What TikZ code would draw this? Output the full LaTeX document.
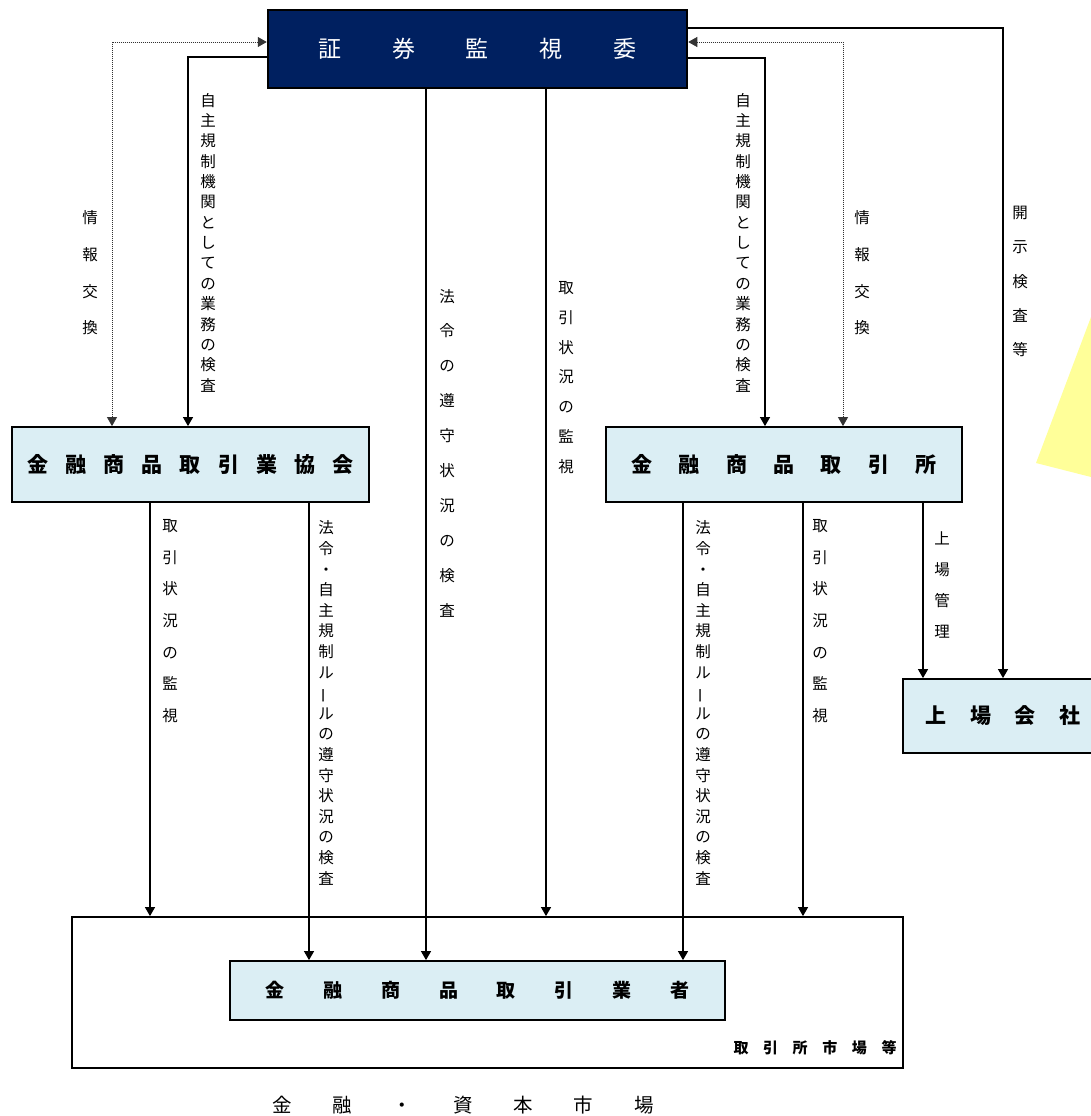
\documentclass[tikz,border=0pt]{standalone}
\usepackage{fontspec}
\usepackage{graphicx}
\newfontfamily\jp{Noto Sans CJK JP}
\usetikzlibrary{arrows.meta}
\definecolor{navy}{RGB}{0,32,96}
\definecolor{lblue}{RGB}{219,238,244}
\definecolor{lyel}{RGB}{255,255,153}
\newlength\cbw
\newcommand\cb[1]{\makebox[\cbw]{#1}}
\newcommand\vbar{\rotatebox[origin=c]{90}{ー}}
\begin{document}
\begin{tikzpicture}[x=1pt,y=-1pt,
  tip/.tip={Triangle[length=9pt,width=10pt]},
  conn/.style={line width=1.2pt,-tip},
  dotconn/.style={line width=0.8pt,black!80,dash pattern=on 1pt off 1pt,tip-tip},
  box/.style={draw=black,line width=1.8pt,fill=lblue,inner sep=0pt},
  topbox/.style={draw=black,line width=2.5pt,fill=navy,inner sep=0pt,text=white,
    font={\jp\fontsize{23pt}{26pt}\selectfont}},
  vlab/.style={align=center,inner sep=0pt,font={\jp\fontsize{15.5pt}{#1}\selectfont}}]
\useasboundingbox (0,0) rectangle (1091,1116);
% yellow shape
\fill[lyel] (1036,463) -- (1091,317) -- (1091,477) -- cycle;

% boxes
\node[topbox,minimum width=419pt,minimum height=78pt] (sesc) at (477.5,49)
  {\setlength\cbw{73.7pt}\cb{証}\cb{券}\cb{監}\cb{視}\cb{委}};
\node[box,minimum width=357pt,minimum height=75pt,font={\jp\bfseries\fontsize{21pt}{24pt}\selectfont}] (kyokai) at (190.5,464.5)
  {\setlength\cbw{38.1pt}\cb{金}\cb{融}\cb{商}\cb{品}\cb{取}\cb{引}\cb{業}\cb{協}\cb{会}};
\node[box,minimum width=356pt,minimum height=75pt,font={\jp\bfseries\fontsize{21pt}{24pt}\selectfont}] (torihiki) at (784,464.5)
  {\setlength\cbw{47.3pt}\cb{金}\cb{融}\cb{商}\cb{品}\cb{取}\cb{引}\cb{所}};
\node[box,minimum width=200pt,minimum height=74pt,font={\jp\bfseries\fontsize{21pt}{24pt}\selectfont}] (jojo) at (1003,716)
  {\setlength\cbw{44.5pt}\cb{上}\cb{場}\cb{会}\cb{社}\hspace{6pt}};
\node[draw=black,line width=1.8pt,fill=white,minimum width=831pt,minimum height=151pt] (market) at (487.5,992.5) {};
\node[box,minimum width=495pt,minimum height=59pt,font={\jp\bfseries\fontsize{19pt}{22pt}\selectfont}] (gyosha) at (477.5,990.5)
  {\setlength\cbw{57.9pt}\cb{金}\cb{融}\cb{商}\cb{品}\cb{取}\cb{引}\cb{業}\cb{者}};
\node[inner sep=0pt,font={\jp\bfseries\fontsize{15pt}{17pt}\selectfont}] (mktlab) at (815,1048)
  {\setlength\cbw{29.6pt}\cb{取}\cb{引}\cb{所}\cb{市}\cb{場}\cb{等}};
\node[inner sep=0pt,font={\jp\fontsize{19.5pt}{22pt}\selectfont}] (bottom) at (463,1105)
  {\setlength\cbw{60.3pt}\cb{金}\cb{融}\cb{・}\cb{資}\cb{本}\cb{市}\cb{場}};

% corner coordinates
\coordinate (cL1) at (112,42);
\coordinate (cL2) at (188,57);
\coordinate (cR1) at (843,42);
\coordinate (cR2) at (765,58);
\coordinate (cR3) at (1003,28);
\coordinate (cM1) at (426,0);
\coordinate (cM2) at (546,0);
\coordinate (kA) at (150,0);
\coordinate (kB) at (309,0);
\coordinate (tA) at (683,0);
\coordinate (tB) at (803,0);
\coordinate (tC) at (923,0);

% connectors
\draw[dotconn] (kyokai.north -| cL1) -- (cL1) -- (sesc.west |- cL1);
\draw[conn] (sesc.west |- cL2) -- (cL2) -- (kyokai.north -| cL2);
\draw[dotconn] (torihiki.north -| cR1) -- (cR1) -- (sesc.east |- cR1);
\draw[conn] (sesc.east |- cR2) -- (cR2) -- (torihiki.north -| cR2);
\draw[conn] (sesc.east |- cR3) -- (cR3) -- (jojo.north -| cR3);
\draw[conn] (sesc.south -| cM1) -- (gyosha.north -| cM1);
\draw[conn] (sesc.south -| cM2) -- (market.north -| cM2);
\draw[conn] (kyokai.south -| kA) -- (market.north -| kA);
\draw[conn] (kyokai.south -| kB) -- (gyosha.north -| kB);
\draw[conn] (torihiki.south -| tA) -- (gyosha.north -| tA);
\draw[conn] (torihiki.south -| tB) -- (market.north -| tB);
\draw[conn] (torihiki.south -| tC) -- (jojo.north -| tC);

% vertical labels
\node[vlab=36.7pt] (l1) at (90,273) {情\\報\\交\\換};
\node[vlab=20.36pt] (l2) at (208,242.5) {自\\主\\規\\制\\機\\関\\と\\し\\て\\の\\業\\務\\の\\検\\査};
\node[vlab=34.9pt] (l3) at (447,453) {法\\令\\の\\遵\\守\\状\\況\\の\\検\\査};
\node[vlab=29.8pt] (l4) at (566,377.5) {取\\引\\状\\況\\の\\監\\視};
\node[vlab=20.36pt] (l5) at (743,242.5) {自\\主\\規\\制\\機\\関\\と\\し\\て\\の\\業\\務\\の\\検\\査};
\node[vlab=36.7pt] (l6) at (862,273) {情\\報\\交\\換};
\node[vlab=34.25pt] (l7) at (1020,281.5) {開\\示\\検\\査\\等};
\node[vlab=31.7pt] (l8) at (170,621) {取\\引\\状\\況\\の\\監\\視};
\node[vlab=20.6pt] (l9) at (326,703) {法\\令\\・\\自\\主\\規\\制\\ル\\\vbar\\ル\\の\\遵\\守\\状\\況\\の\\検\\査};
\node[vlab=20.6pt] (l10) at (703,703) {法\\令\\・\\自\\主\\規\\制\\ル\\\vbar\\ル\\の\\遵\\守\\状\\況\\の\\検\\査};
\node[vlab=31.7pt] (l11) at (820,621) {取\\引\\状\\況\\の\\監\\視};
\node[vlab=31.3pt] (l12) at (942,585) {上\\場\\管\\理};
\end{tikzpicture}
\end{document}
